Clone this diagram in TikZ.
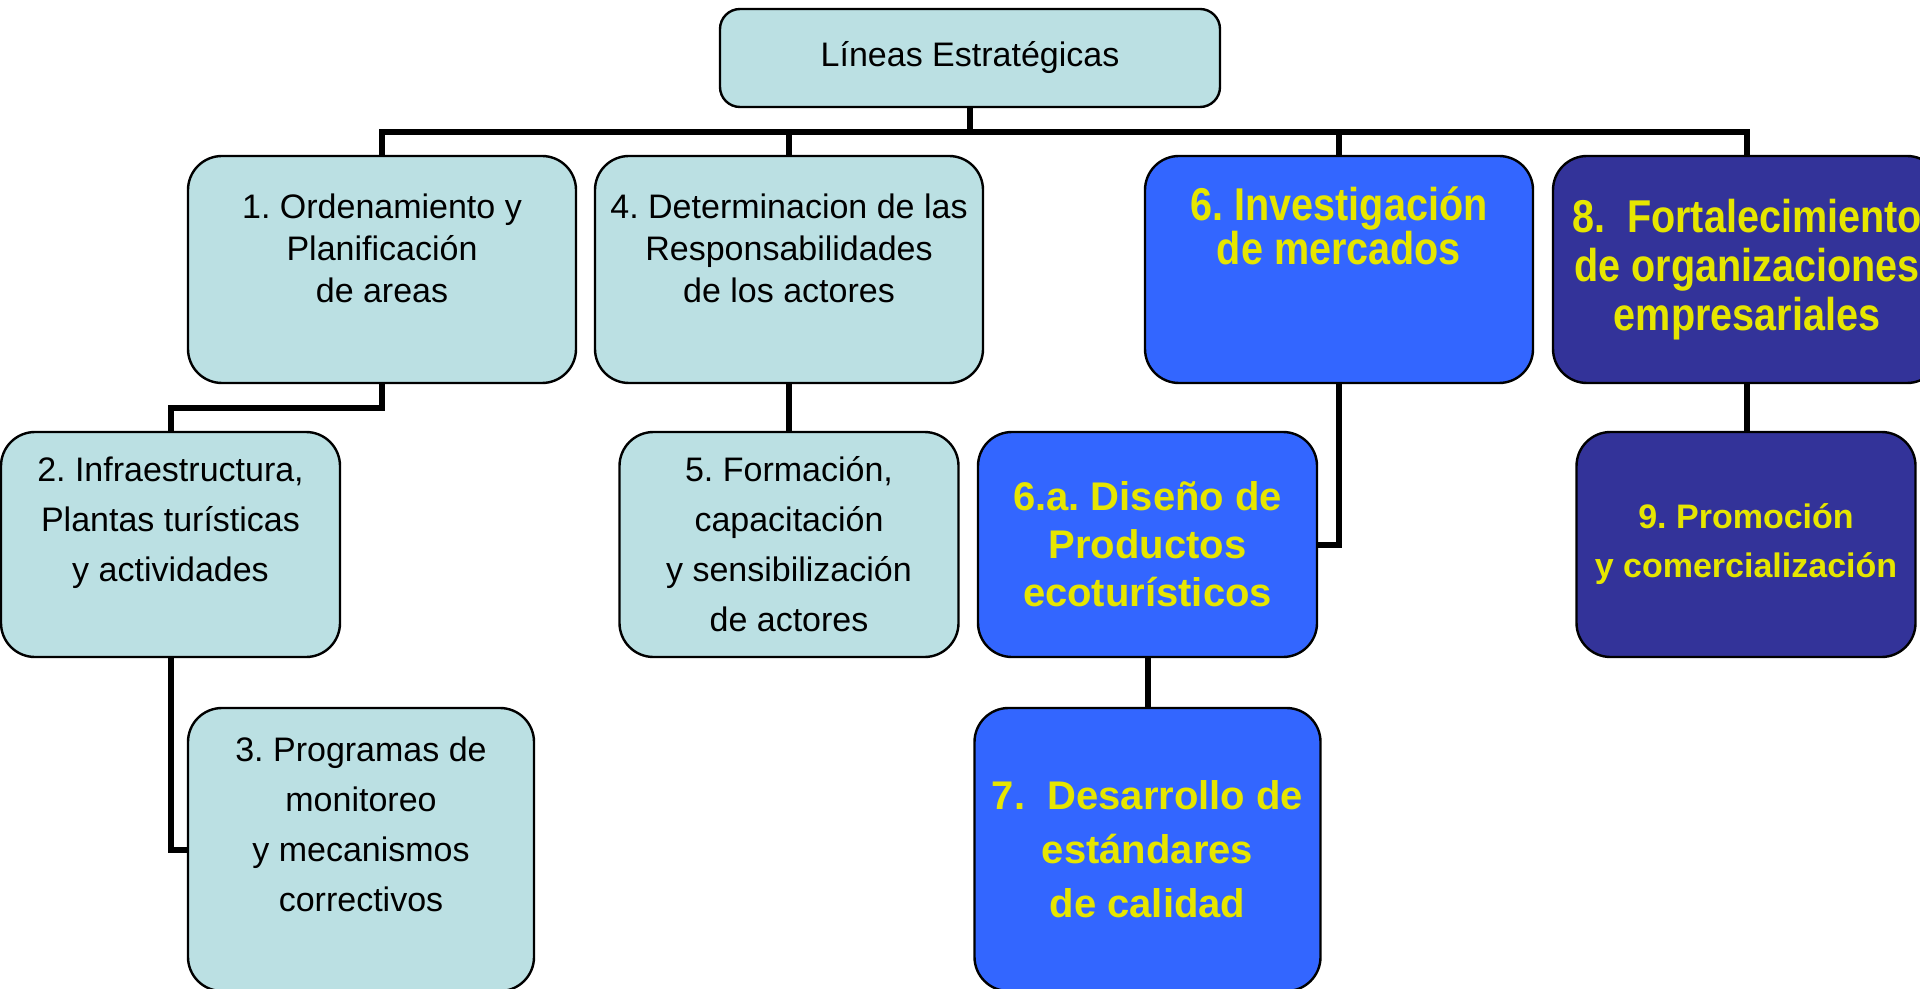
\documentclass[tikz,border=0pt]{standalone}
\usepackage{fontspec}
\setmainfont{Liberation Sans}
\newfontfamily\narrowfont{Liberation Sans}[FakeStretch=0.86]
\frenchspacing
\usepackage{xcolor}
\definecolor{lightteal}{HTML}{BBE0E3}
\definecolor{brightblue}{HTML}{3366FF}
\definecolor{darkindigo}{HTML}{333399}
\definecolor{lemon}{HTML}{E6E600}
\usetikzlibrary{positioning}
\tikzstyle{titlebox}=[rectangle, rounded corners=10pt, minimum width=250pt, minimum height=49pt, align=center, draw=black, line width=1.2pt, fill=lightteal, font=\fontsize{17}{21}\selectfont]
\tikzstyle{palebox}=[rectangle, rounded corners=17pt, minimum width=194pt, minimum height=113.5pt, inner sep=0pt, align=center, draw=black, line width=1.2pt, fill=lightteal, font=\fontsize{17}{25}\selectfont]
\tikzstyle{bluebox}=[rectangle, rounded corners=17pt, minimum width=194pt, minimum height=113.5pt, inner sep=0pt, align=center, draw=black, line width=1.2pt, fill=brightblue, text=lemon, font=\fontsize{20}{24}\selectfont\bfseries]
\tikzstyle{indigobox}=[rectangle, rounded corners=17pt, minimum width=194pt, minimum height=113.5pt, inner sep=0pt, align=center, draw=black, line width=1.2pt, fill=darkindigo, text=lemon, font=\fontsize{17}{24.5}\selectfont\bfseries]
\tikzstyle{rowtwo}=[minimum width=169.5pt, minimum height=112.5pt]
\tikzstyle{rowthree}=[minimum width=173pt, minimum height=141.5pt]
\tikzstyle{link}=[line width=3pt]

\begin{document}
\begin{tikzpicture}[x=0.5pt, y=-0.5pt]
	\useasboundingbox (0,0) rectangle (1920,989);
	\node(n0)[titlebox] at (970,58){L\'ineas Estrat\'egicas};
	\node(n1)[palebox, font=\fontsize{17}{21}\selectfont] at (382,269.5){1. Ordenamiento y\\ Planificaci\'on\\ de areas\\ ~};
	\node(n4)[palebox, font=\fontsize{17}{21}\selectfont] at (789,269.5){4. Determinacion de las\\ Responsabilidades\\ de los actores\\ ~};
	\node(n6)[bluebox, font=\fontsize{23}{22}\narrowfont\bfseries] at (1339,269.5){6. Investigaci\'on\\ de mercados\\ ~\\ ~};
	\node(n8)[indigobox, font=\fontsize{23}{24.5}\narrowfont\bfseries] at (1747,269.5){8.~~Fortalecimiento\\ de organizaciones\\ empresariales};
	\node(n2)[palebox, rowtwo] at (170.5,544.5){2. Infraestructura,\\ Plantas tur\'isticas\\ y actividades\\ ~};
	\node(n5)[palebox, rowtwo, below of=n4, node distance=137.5pt]{5. Formaci\'on,\\ capacitaci\'on\\ y sensibilizaci\'on\\ de actores};
	\node(n6-1)[bluebox, rowtwo] at (1147.5,544.5){6.a. Dise\~no de\\ Productos\\ ecotur\'isticos};
	\node(n9)[indigobox, rowtwo] at (1746,544.5){9. Promoci\'on\\ y comercializaci\'on};
	\node(n3)[palebox, rowthree] at (361,849.5){3. Programas de\\ monitoreo\\ y mecanismos\\ correctivos\\ ~};
	\node(n7)[bluebox, rowthree, below of=n6-1, node distance=152.5pt, font=\fontsize{20}{27}\selectfont\bfseries]{7.~~Desarrollo de\\ est\'andares\\ de calidad};
	\coordinate(bar) at (970,132);

	\draw[link](n0.south)--(bar);
	\draw[link](n1.north)|-(bar)-|(n8.north);
	\draw[link](n4.north)--(n4.north|-bar);
	\draw[link](n6.north)--(n6.north|-bar);
	\draw[link](n1.south)--++(0,24)-|(n2.north);
	\draw[link](n4.south)--(n5.north);
	\draw[link](n6.south)|-(n6-1.east);
	\draw[link](n8.south)--(n8.south|-n9.north);
	\draw[link](n2.south)|-(n3.west);
	\draw[link](n6-1.south)--(n7.north);
\end{tikzpicture}
\end{document}
